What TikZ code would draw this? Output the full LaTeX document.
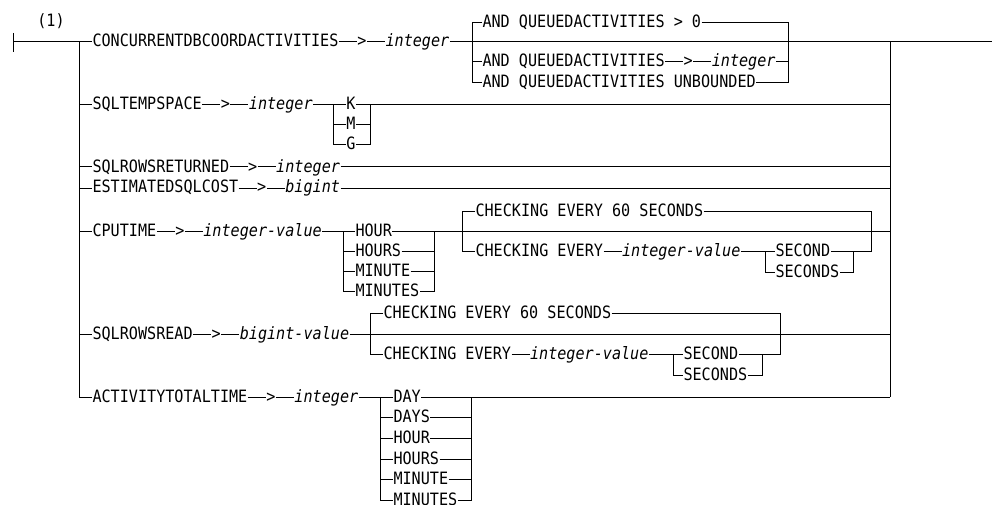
\documentclass[tikz,border=0pt]{standalone}
\usepackage{fontspec}
\usetikzlibrary{positioning}
\newfontfamily\rrfont[FakeStretch=0.89,ItalicFont={DejaVu Sans Mono Oblique}]{DejaVu Sans Mono}

\tikzset{
  rr/.style={inner sep=0pt,text height=10pt,text depth=0pt,font=\rrfont\fontsize{17}{17}\selectfont},
  rrvar/.style={rr,font=\rrfont\fontsize{17}{17}\selectfont\itshape},
}

\begin{document}
\begin{tikzpicture}[x=1pt,y=-1pt,line width=1pt,node distance=18pt]
  \useasboundingbox (0,0) rectangle (992,505);
  % main line and rails
  \coordinate (start) at (13,42);
  \coordinate (finish) at (992,42);
  \coordinate (lt) at (79,42);
  \coordinate (lb) at (79,397);
  \coordinate (rt) at (890,42);
  \coordinate (rb) at (890,397);
  \draw (13,33) -- (13,52);
  \node[rr] (note) at (51,22) {(1)};
  \draw (lt) -- (lb);
  \draw (rt) -- (rb);

  % CONCURRENTDBCOORDACTIVITIES
  \node[rr,anchor=west] (cc) at (92,42) {CONCURRENTDBCOORDACTIVITIES};
  \node[rr,right=of cc] (ccg) {>};
  \node[rrvar,right=of ccg] (cci) {integer};
  \coordinate (qL) at (472,42);
  \coordinate (qR) at (788,42);
  \node[rr,anchor=west] (qa) at (482,23) {AND QUEUEDACTIVITIES > 0};
  \node[rr,anchor=west] (qb) at (482,62) {AND QUEUEDACTIVITIES};
  \node[rr,right=of qb] (qbg) {>};
  \node[rrvar,right=of qbg] (qbi) {integer};
  \node[rr,anchor=west] (qc) at (482,83) {AND QUEUEDACTIVITIES UNBOUNDED};
  \draw (start) -- (cc) -- (ccg) -- (cci) -- (finish);
  \draw (qa) -- (qa.west -| qL) -- (qc.west -| qL) -- (qc);
  \draw (qb.west -| qL) -- (qb) -- (qbg) -- (qbi) -- (qbi.east -| qR);
  \draw (qa) -- (qa.east -| qR) -- (qc.east -| qR) -- (qc);

  % SQLTEMPSPACE
  \node[rr,anchor=west] (tsp) at (92,105) {SQLTEMPSPACE};
  \node[rr,right=of tsp] (tspg) {>};
  \node[rrvar,right=of tspg] (tspi) {integer};
  \coordinate (kL) at (333,105);
  \coordinate (kR) at (370,105);
  \node[rr] (k) at (351,105) {K};
  \node[rr] (m) at (351,125) {M};
  \node[rr] (g) at (351,145) {G};
  \draw (lt |- tsp) -- (tsp) -- (tspg) -- (tspi) -- (k) -- (k -| rt);
  \draw (k.west -| kL) -- (g.west -| kL) -- (g) -- (g.east -| kR) -- (kR);
  \draw (m.west -| kL) -- (m) -- (m.east -| kR);

  % SQLROWSRETURNED
  \node[rr,anchor=west] (srr) at (92,167) {SQLROWSRETURNED};
  \node[rr,right=of srr] (srrg) {>};
  \node[rrvar,right=of srrg] (srri) {integer};
  \draw (lt |- srr) -- (srr) -- (srrg) -- (srri) -- (srri -| rt);

  % ESTIMATEDSQLCOST
  \node[rr,anchor=west] (esc) at (92,188) {ESTIMATEDSQLCOST};
  \node[rr,right=of esc] (escg) {>};
  \node[rrvar,right=of escg] (esci) {bigint};
  \draw (lt |- esc) -- (esc) -- (escg) -- (esci) -- (esci -| rt);

  % CPUTIME
  \node[rr,anchor=west] (cpu) at (92,231) {CPUTIME};
  \node[rr,right=of cpu] (cpug) {>};
  \node[rrvar,right=of cpug] (cpui) {integer-value};
  \coordinate (uL) at (343,231);
  \coordinate (uR) at (434,231);
  \node[rr,anchor=west] (u1) at (355,231) {HOUR};
  \node[rr,anchor=west] (u2) at (355,251) {HOURS};
  \node[rr,anchor=west] (u3) at (355,271) {MINUTE};
  \node[rr,anchor=west] (u4) at (355,291) {MINUTES};
  \draw (lt |- cpu) -- (cpu) -- (cpug) -- (cpui) -- (u1);
  \draw (u1.west -| uL) -- (u4.west -| uL) -- (u4) -- (u4.east -| uR) -- (uR);
  \draw (u2.west -| uL) -- (u2) -- (u2.east -| uR);
  \draw (u3.west -| uL) -- (u3) -- (u3.east -| uR);
  \draw (u1) -- (u1 -| rt);
  \coordinate (cL) at (462,231);
  \coordinate (cR) at (871,231);
  \node[rr,anchor=west] (ca) at (475,211) {CHECKING EVERY 60 SECONDS};
  \node[rr,anchor=west] (cb) at (475,251) {CHECKING EVERY};
  \node[rrvar,right=of cb] (cbi) {integer-value};
  \coordinate (sL) at (765,251);
  \coordinate (sR) at (853,251);
  \node[rr,anchor=west] (s1) at (775,251) {SECOND};
  \node[rr,anchor=west] (s2) at (775,272) {SECONDS};
  \draw (ca) -- (ca.west -| cL) -- (cb.west -| cL) -- (cb) -- (cbi) -- (s1);
  \draw (ca) -- (ca.east -| cR) -- (cR |- s1) -- (s1);
  \draw (s1.west -| sL) -- (s2.west -| sL) -- (s2) -- (s2.east -| sR) -- (sR);

  % SQLROWSREAD
  \node[rr,anchor=west] (srd) at (92,334) {SQLROWSREAD};
  \node[rr,right=of srd] (srdg) {>};
  \node[rrvar,right=of srdg] (srdi) {bigint-value};
  \coordinate (dL) at (370,334);
  \coordinate (dR) at (780,334);
  \node[rr,anchor=west] (da) at (383,313) {CHECKING EVERY 60 SECONDS};
  \node[rr,anchor=west] (db) at (383,354) {CHECKING EVERY};
  \node[rrvar,right=of db] (dbi) {integer-value};
  \coordinate (tL) at (673,354);
  \coordinate (tR) at (762,354);
  \node[rr,anchor=west] (t1) at (683,354) {SECOND};
  \node[rr,anchor=west] (t2) at (683,375) {SECONDS};
  \draw (lt |- srd) -- (srd) -- (srdg) -- (srdi) -- (srdi -| rt);
  \draw (da) -- (da.west -| dL) -- (db.west -| dL) -- (db) -- (dbi) -- (t1);
  \draw (da) -- (da.east -| dR) -- (dR |- t1) -- (t1);
  \draw (t1.west -| tL) -- (t2.west -| tL) -- (t2) -- (t2.east -| tR) -- (tR);

  % ACTIVITYTOTALTIME
  \node[rr,anchor=west] (att) at (92,397) {ACTIVITYTOTALTIME};
  \node[rr,right=of att] (attg) {>};
  \node[rrvar,right=of attg] (atti) {integer};
  \coordinate (aL) at (380,397);
  \coordinate (aR) at (471,397);
  \foreach \n/\t [count=\i from 0] in {a1/DAY,a2/DAYS,a3/HOUR,a4/HOURS,a5/MINUTE,a6/MINUTES}
    \node[rr,anchor=west] (\n) at (393,397+20.7*\i) {\t};
  \draw (lb) -- (att) -- (attg) -- (atti) -- (a1) -- (rb);
  \draw (a1.west -| aL) -- (a6.west -| aL) -- (a6) -- (a6.east -| aR) -- (aR);
  \foreach \n in {a2,a3,a4,a5}
    \draw (\n.west -| aL) -- (\n) -- (\n.east -| aR);
\end{tikzpicture}
\end{document}
